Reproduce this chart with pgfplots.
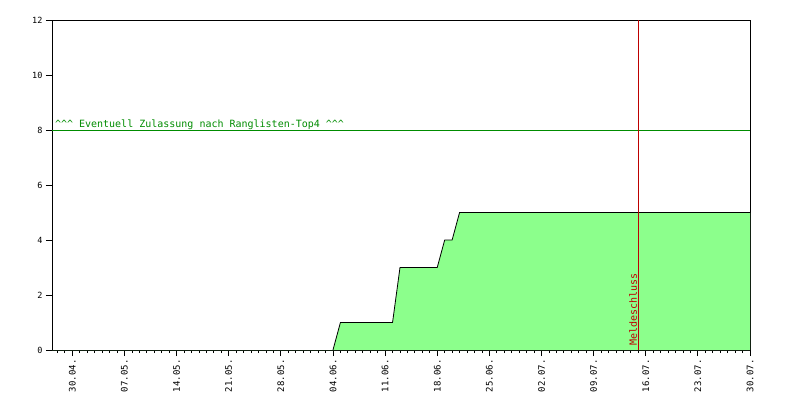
\documentclass[border=0pt]{standalone}
\usepackage{pgfplots}
\pgfplotsset{compat=1.18}
\usepackage{fontspec}
\setmainfont{DejaVu Sans Mono}
\setmonofont{DejaVu Sans Mono}
\definecolor{fillgreen}{RGB}{140,255,140}
\definecolor{lgreen}{RGB}{0,140,0}
\definecolor{lred}{RGB}{190,0,0}
\begin{document}
\begin{tikzpicture}
\begin{axis}[
 scale only axis, width=698pt, height=330pt,
 xmin=-2.73, xmax=91, ymin=0, ymax=12,
 axis line style={line width=0.8pt},
 xtick={0,7,...,91},
 xticklabels={30.04.,07.05.,14.05.,21.05.,28.05.,04.06.,11.06.,18.06.,25.06.,02.07.,09.07.,16.07.,23.07.,30.07.},
 minor xtick={-2,...,90},
 ytick={0,2,...,12},
 tick align=outside, tick pos=left,
 major tick length=6pt, minor tick length=3pt,
 tick style={black, line width=0.8pt},
 xticklabel style={rotate=90, anchor=east, font=\fontsize{9}{9}\selectfont},
 yticklabel style={font=\fontsize{8.5}{9}\selectfont},
 /pgf/number format/assume math mode=true,
 clip=false,
]
\addplot[fill=fillgreen, draw=none] coordinates {(-2.73,0) (35,0) (36,1) (43,1) (44,3) (49,3) (50,4) (51,4) (52,5) (91,5)} \closedcycle;
\addplot[black, line width=0.8pt] coordinates {(35,0) (36,1) (43,1) (44,3) (49,3) (50,4) (51,4) (52,5) (91,5)};
\addplot[lgreen, line width=0.8pt] coordinates {(-2.73,8) (91,8)};
\addplot[lred, line width=0.8pt] coordinates {(76,0) (76,12)};
\node[anchor=base west, text=lgreen, font=\fontsize{10}{10}\selectfont, inner sep=0pt] at (axis cs:-2.35,8.1) {\^{}\^{}\^{} Eventuell Zulassung nach Ranglisten-Top4 \^{}\^{}\^{}};
\node[rotate=90, anchor=base west, text=lred, font=\fontsize{10}{10}\selectfont, inner sep=0pt] at (axis cs:75.8,0.15) {Meldeschluss};
\end{axis}
\path[use as bounding box] ([shift={(-52pt,-50pt)}]current axis.south west) rectangle ([shift={(50pt,20pt)}]current axis.north east);
\end{tikzpicture}
\end{document}
